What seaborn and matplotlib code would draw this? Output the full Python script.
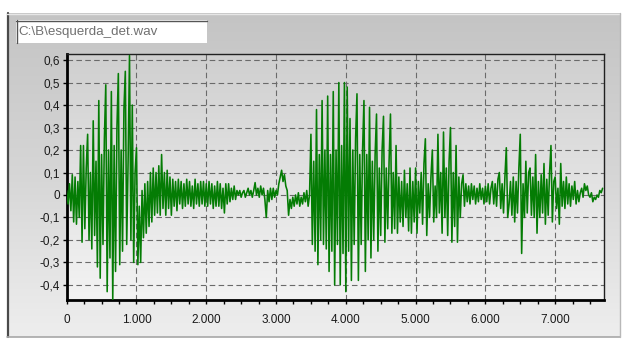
import numpy as np
import pandas as pd
import matplotlib
matplotlib.use("Agg")
import matplotlib.pyplot as plt
from matplotlib.ticker import FuncFormatter, MultipleLocator
import seaborn as sns

# ---------------- data ----------------
title_text = "C:\\B\\esquerda_det.wav"
sample_step_ms = 20
amplitude = [
    # 0 - 980 ms
    0.02, -0.04, 0.05, -0.07, 0.09, -0.12, 0.08, -0.13, 0.06, -0.10,
    0.22, -0.21, 0.22, -0.15, 0.12, 0.27, -0.20, 0.10, -0.24, 0.33,
    -0.18, 0.15, -0.32, 0.42, -0.37, 0.18, -0.22, 0.25, 0.49, -0.43,
    0.20, -0.28, 0.46, -0.47, 0.22, -0.34, 0.30, 0.54, -0.31, 0.20,
    -0.25, 0.38, 0.55, -0.22, 0.15, 0.62, -0.20, 0.40, -0.30, 0.10,
    # 1000 - 1980 ms
    0.21, -0.31, -0.05, -0.30, 0.02, -0.19, 0.05, -0.17, 0.06, -0.14,
    0.10, -0.12, 0.12, -0.09, 0.10, -0.08, 0.13, -0.09, 0.18, -0.06,
    0.10, -0.09, 0.11, -0.06, 0.08, -0.09, 0.07, -0.05, 0.06, -0.07,
    0.07, -0.04, 0.06, -0.06, 0.05, -0.05, 0.07, -0.04, 0.06, -0.05,
    0.04, -0.06, 0.07, -0.04, 0.05, -0.05, 0.06, -0.04, 0.06, -0.05,
    # 2000 - 2980 ms
    0.05, -0.05, 0.06, -0.04, 0.05, -0.06, 0.04, -0.05, 0.06, -0.05,
    0.05, -0.06, 0.03, -0.08, 0.05, -0.04, 0.05, -0.03, 0.03, -0.02,
    0.04, -0.02, 0.02, 0.00, 0.02, -0.01, 0.01, 0.02, -0.01, 0.01,
    0.03, 0.00, 0.02, -0.01, 0.02, 0.055, 0.00, 0.03, -0.01, 0.04,
    0.00, 0.03, -0.02, -0.10, 0.02, -0.03, 0.03, -0.02, 0.03, -0.01,
    # 3000 - 3980 ms
    0.02, 0.00, 0.05, 0.08, 0.11, 0.06, 0.09, 0.04, 0.02, -0.09,
    -0.02, -0.06, -0.01, -0.05, 0.00, -0.04, 0.01, -0.05, -0.01, -0.04,
    0.01, -0.03, 0.02, -0.05, 0.00, 0.27, -0.22, 0.15, -0.25, 0.38,
    -0.31, 0.18, -0.20, 0.42, -0.22, 0.20, -0.24, 0.44, -0.34, 0.18,
    -0.25, 0.46, -0.40, 0.20, -0.22, 0.50, -0.40, 0.22, -0.26, 0.50,
    # 4000 - 4980 ms
    -0.43, 0.48, -0.25, 0.34, -0.38, 0.20, -0.22, 0.25, 0.45, -0.38,
    0.18, -0.22, 0.20, 0.42, -0.34, 0.18, -0.20, 0.39, -0.28, 0.15,
    -0.20, 0.18, 0.36, -0.25, 0.12, -0.18, 0.20, 0.35, -0.21, 0.12,
    -0.15, 0.15, 0.36, -0.17, 0.10, -0.15, 0.22, -0.17, 0.08, -0.12,
    0.06, -0.14, 0.11, -0.10, 0.05, -0.16, 0.12, -0.17, 0.06, -0.12,
    # 5000 - 5980 ms
    0.12, -0.17, 0.06, -0.08, 0.10, -0.13, 0.14, 0.25, -0.18, 0.05,
    -0.10, 0.08, 0.20, -0.12, 0.04, -0.10, 0.27, -0.08, 0.10, -0.17,
    0.28, -0.10, 0.12, -0.18, 0.15, 0.30, -0.21, 0.10, -0.14, 0.22,
    -0.21, 0.08, -0.10, 0.05, 0.09, -0.05, 0.05, -0.03, 0.04, -0.04,
    0.05, -0.02, 0.04, -0.04, 0.03, -0.03, 0.05, -0.02, 0.03, -0.04,
    # 6000 - 6980 ms
    0.04, -0.03, 0.05, -0.04, 0.03, 0.06, -0.04, 0.05, -0.05, 0.07,
    0.10, -0.06, 0.05, -0.08, 0.08, 0.21, -0.10, -0.04, 0.06, -0.09,
    0.08, -0.12, 0.06, -0.08, 0.12, 0.27, -0.26, 0.05, -0.10, 0.15,
    -0.08, 0.10, 0.12, -0.09, 0.08, -0.10, 0.18, -0.17, 0.06, -0.10,
    0.09, -0.08, 0.14, -0.13, 0.07, -0.09, 0.10, 0.22, -0.12, 0.06,
    # 7000 - 7680 ms
    0.08, -0.06, 0.03, -0.13, 0.14, -0.05, 0.06, -0.06, 0.08, -0.04,
    0.05, -0.05, 0.04, -0.02, 0.06, -0.04, 0.02, -0.03, 0.01, 0.03,
    -0.01, 0.05, 0.02, 0.04, 0.00, -0.01, 0.01, -0.03, -0.01, -0.02,
    0.00, -0.01, 0.02, 0.01, 0.03,
]
time_ms = [i * sample_step_ms for i in range(len(amplitude))]
y_ticks = [-0.4, -0.3, -0.2, -0.1, 0.0, 0.1, 0.2, 0.3, 0.4, 0.5, 0.6]
x_ticks = [0, 1000, 2000, 3000, 4000, 5000, 6000, 7000]

df = pd.DataFrame({"t": time_ms, "a": amplitude})

# ---------------- figure ----------------
sns.set_style("ticks")
plt.rcParams["font.family"] = ["Liberation Sans", "DejaVu Sans"]

W, H = 625, 340
fig = plt.figure(figsize=(W / 100, H / 100), dpi=100)
fig.patch.set_facecolor("white")

# background panel (window look)
bg = fig.add_axes([0, 0, 1, 1], zorder=-10)
bg.set_xlim(0, W)
bg.set_ylim(H, 0)
bg.axis("off")
grad = np.linspace(0, 1, 256).reshape(-1, 1)
panel_cmap = matplotlib.colors.LinearSegmentedColormap.from_list(
    "panel", ["#c4c4c4", "#d6d6d6", "#eeeeee"])
bg.imshow(grad, cmap=panel_cmap, extent=[7, 620, 337, 13], aspect="auto",
          interpolation="bicubic")
bg.plot([7.5, 7.5], [13, 337], color="#4a4a4a", lw=1.6)
bg.plot([7, 620], [13.5, 13.5], color="#e6e6e6", lw=1)
bg.plot([7, 620], [336.5, 336.5], color="#a8a8a8", lw=1.2)
bg.plot([619.5, 619.5], [13, 337], color="#b8b8b8", lw=1)
# title box
bg.add_patch(plt.Rectangle((16, 20), 191, 23, facecolor="white",
                           edgecolor="none"))
bg.plot([16.5, 16.5], [20, 43], color="#555555", lw=1)
bg.plot([16, 207], [20.5, 20.5], color="#555555", lw=1)
bg.text(18, 31.5, title_text, fontsize=9.6, color="#707070",
        va="center", ha="left")

# main axes
left, right, top, bottom = 66.7, 604, 54, 300
ax = fig.add_axes([left / W, 1 - bottom / H, (right - left) / W,
                   (bottom - top) / H])
area_cmap = matplotlib.colors.LinearSegmentedColormap.from_list(
    "area", ["#cfcfcf", "#e2e2e2", "#f3f3f3"])
ax.imshow(grad, cmap=area_cmap, extent=[0, 1, 0, 1], transform=ax.transAxes,
          aspect="auto", zorder=0, interpolation="bicubic")

sns.lineplot(data=df, x="t", y="a", ax=ax, color="#047c04", linewidth=1.15,
             estimator=None, zorder=3)

ax.set_xlim(0, 7700)
ax.set_ylim(-0.467, 0.627)
ax.set_xticks(x_ticks)
ax.set_yticks(y_ticks)
ax.xaxis.set_minor_locator(MultipleLocator(250))


def fmt_y(v, pos):
    if abs(v) < 1e-9:
        return "0"
    return f"{v:.1f}".replace(".", ",")


def fmt_x(v, pos):
    if abs(v) < 1e-9:
        return "0"
    return f"{int(round(v)):,}".replace(",", ".")


ax.yaxis.set_major_formatter(FuncFormatter(fmt_y))
ax.xaxis.set_major_formatter(FuncFormatter(fmt_x))
ax.set_xlabel("")
ax.set_ylabel("")

ax.grid(True, which="major", linestyle=(0, (5, 3)), color="#6a6a6a",
        linewidth=0.8, zorder=1)
ax.set_axisbelow(True)

for side in ["left", "bottom"]:
    ax.spines[side].set_linewidth(2.0)
    ax.spines[side].set_color("black")
for side in ["top", "right"]:
    ax.spines[side].set_visible(True)
    ax.spines[side].set_linewidth(1.0)
    ax.spines[side].set_color("#202020")

ax.tick_params(axis="both", which="major", length=3, width=1, color="black",
               labelsize=8.5, labelcolor="#1a1a1a", direction="out")
ax.tick_params(axis="x", which="major", pad=7)
ax.tick_params(axis="y", which="major", pad=2)
ax.tick_params(axis="x", which="minor", length=3, width=1, color="black",
               direction="out")

fig.savefig("out.png", dpi=100)
